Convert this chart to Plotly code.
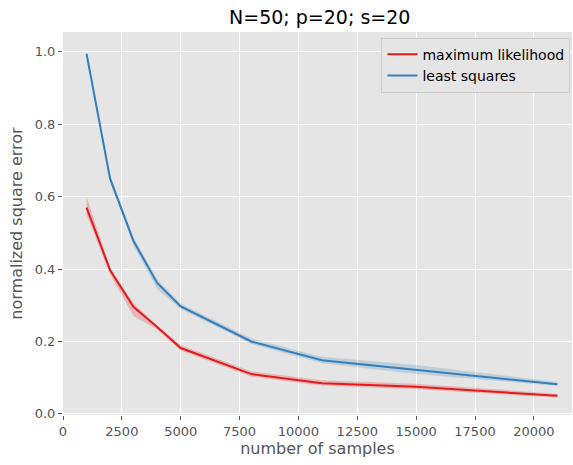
import plotly.graph_objects as go

samples = [1000, 2000, 3000, 4000, 5000, 8000, 11000, 15000, 21000]

ml_mean = [0.57, 0.397, 0.295, 0.24, 0.182, 0.11, 0.085, 0.075, 0.05]
ml_low = [0.55, 0.385, 0.27, 0.233, 0.175, 0.103, 0.078, 0.068, 0.045]
ml_high = [0.60, 0.405, 0.305, 0.245, 0.19, 0.118, 0.093, 0.083, 0.056]

ls_mean = [0.995, 0.65, 0.477, 0.362, 0.297, 0.2, 0.148, 0.122, 0.082]
ls_low = [0.99, 0.64, 0.465, 0.345, 0.29, 0.193, 0.14, 0.11, 0.077]
ls_high = [1.0, 0.66, 0.487, 0.372, 0.305, 0.208, 0.158, 0.135, 0.088]

x_ticks = [0, 2500, 5000, 7500, 10000, 12500, 15000, 17500, 20000]
y_ticks = [0.0, 0.2, 0.4, 0.6, 0.8, 1.0]

red = "#e41a1c"
blue = "#377eb8"

fig = go.Figure()

def band(low, high, color):
    fig.add_trace(go.Scatter(x=samples + samples[::-1], y=high + low[::-1],
                             fill="toself", fillcolor=color, line=dict(width=0),
                             mode="lines", hoverinfo="skip", showlegend=False))

band(ml_low, ml_high, "rgba(228,26,28,0.22)")
band(ls_low, ls_high, "rgba(55,126,184,0.22)")

fig.add_trace(go.Scatter(x=samples, y=ml_mean, mode="lines", name="maximum likelihood",
                         line=dict(color=red, width=2)))
fig.add_trace(go.Scatter(x=samples, y=ls_mean, mode="lines", name="least squares",
                         line=dict(color=blue, width=2)))

fig.update_layout(
    width=573, height=465,
    margin=dict(l=63, r=1, t=32, b=50),
    paper_bgcolor="white", plot_bgcolor="#e5e5e5",
    font=dict(family="DejaVu Sans", color="#555555"),
    title=dict(text="N=50; p=20; s=20", x=0.558, xanchor="center", y=0.978, yanchor="top",
               font=dict(size=19, color="black")),
    legend=dict(x=0.997, y=0.985, xanchor="right", yanchor="top",
                bgcolor="#e5e5e5", bordercolor="#cccccc", borderwidth=1,
                font=dict(size=14, color="black")),
    xaxis=dict(range=[0, 21620], tickvals=x_ticks, ticktext=[str(v) for v in x_ticks],
               showgrid=True, gridcolor="white", gridwidth=1, zeroline=False,
               ticks="outside", ticklen=4, tickcolor="#555555", tickfont=dict(size=13, color="#555555"),
               title=dict(text="number of samples", font=dict(size=16, color="#555555"), standoff=3)),
    yaxis=dict(range=[-0.003, 1.055], tickvals=y_ticks, ticktext=[f"{v:.1f}" for v in y_ticks],
               showgrid=True, gridcolor="white", gridwidth=1, zeroline=False,
               ticks="outside", ticklen=4, tickcolor="#555555", tickfont=dict(size=13, color="#555555"),
               title=dict(text="normalized square error", font=dict(size=16, color="#555555"), standoff=8)),
)

fig.write_html("out.html")
